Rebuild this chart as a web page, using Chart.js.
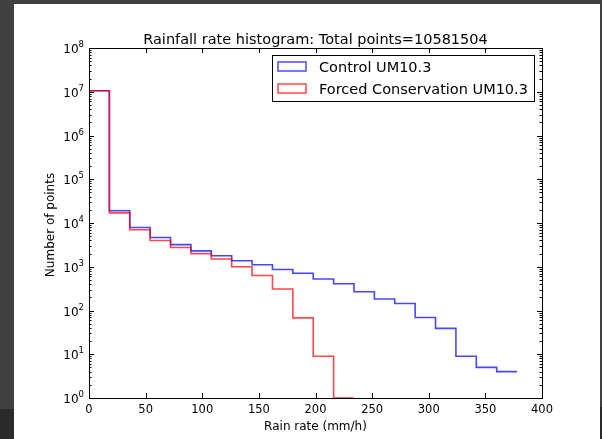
<!DOCTYPE html>
<html>
<head>
<meta charset="utf-8">
<script src="https://cdn.jsdelivr.net/npm/chart.js@4/dist/chart.umd.min.js"></script>
<style>
  html, body { margin: 0; padding: 0; background: #ffffff; overflow: hidden; }
  #wrap { position: relative; width: 602px; height: 439px; }
  canvas { display: block; }
</style>
</head>
<body>
<div id="wrap"><canvas id="c" width="602" height="439"></canvas></div>
<script>
// ---- data ----
const binEdges = [0, 18, 36, 54, 72, 90, 108, 126, 144, 162, 180, 198, 216, 234, 252, 270, 288, 306, 324, 342, 360, 378];
const controlCounts = [10550000, 19000, 7900, 4650, 3200, 2300, 1780, 1370, 1110, 865, 710, 523, 410, 268, 183, 145, 69, 39, 9, 5, 4];
const forcedCounts = [10550000, 17000, 7000, 3980, 2750, 2000, 1500, 1000, 630, 309, 68, 9, 1];
const seriesNames = ['Control UM10.3', 'Forced Conservation UM10.3'];
const xTicks = [0, 50, 100, 150, 200, 250, 300, 350, 400];
const yExponents = [0, 1, 2, 3, 4, 5, 6, 7, 8];
const titleText = 'Rainfall rate histogram: Total points=10581504';
const xTitle = 'Rain rate (mm/h)';
const yTitle = 'Number of points';

// build step points: start at bottom, then each bin's left edge, then final right edge
function stepPoints(counts) {
  const pts = [{x: binEdges[0], y: 1}];
  for (let i = 0; i < counts.length; i++) pts.push({x: binEdges[i], y: counts[i]});
  pts.push({x: binEdges[counts.length], y: counts[counts.length - 1]});
  return pts;
}

const FONT = '"DejaVu Sans", sans-serif';
const BLUE = 'rgba(0,0,255,0.72)';
const RED = 'rgba(255,0,0,0.72)';

const decorPlugin = {
  id: 'decor',
  beforeDraw(chart) {
    const ctx = chart.ctx;
    ctx.save();
    ctx.fillStyle = '#404040';
    ctx.fillRect(0, 0, 602, 439);
    ctx.fillStyle = '#2a2a2a';
    ctx.fillRect(0, 409, 14, 30);
    ctx.fillRect(600, 407, 2, 32);
    ctx.fillStyle = '#ffffff';
    ctx.fillRect(14, 4, 586, 435);
    ctx.restore();
  },
  afterDraw(chart) {
    const ctx = chart.ctx;
    const a = chart.chartArea;
    const xs = chart.scales.x, ys = chart.scales.y;
    ctx.save();
    // frame
    ctx.strokeStyle = '#000';
    ctx.lineWidth = 1;
    ctx.strokeRect(Math.round(a.left) + 0.5, Math.round(a.top) + 0.5,
                   Math.round(a.right - a.left), Math.round(a.bottom - a.top));
    // x ticks (inward, top and bottom)
    ctx.beginPath();
    xTicks.forEach(v => {
      const px = Math.round(xs.getPixelForValue(v)) + 0.5;
      ctx.moveTo(px, a.bottom); ctx.lineTo(px, a.bottom - 5);
      ctx.moveTo(px, a.top); ctx.lineTo(px, a.top + 5);
    });
    // y ticks major + minor (inward, left and right)
    yExponents.forEach(e => {
      const py = Math.round(ys.getPixelForValue(Math.pow(10, e))) + 0.5;
      ctx.moveTo(a.left, py); ctx.lineTo(a.left + 5, py);
      ctx.moveTo(a.right, py); ctx.lineTo(a.right - 5, py);
      if (e < 8) {
        for (let m = 2; m <= 9; m++) {
          const pm = Math.round(ys.getPixelForValue(m * Math.pow(10, e))) + 0.5;
          ctx.moveTo(a.left, pm); ctx.lineTo(a.left + 2.5, pm);
          ctx.moveTo(a.right, pm); ctx.lineTo(a.right - 2.5, pm);
        }
      }
    });
    ctx.stroke();
    // x tick labels
    ctx.fillStyle = '#000';
    ctx.font = '11.5px ' + FONT;
    ctx.textAlign = 'center';
    ctx.textBaseline = 'alphabetic';
    xTicks.forEach(v => {
      ctx.fillText(String(v), xs.getPixelForValue(v), a.bottom + 15);
    });
    // y tick labels 10^n
    yExponents.forEach(e => {
      const py = ys.getPixelForValue(Math.pow(10, e));
      ctx.font = '8.5px ' + FONT;
      const ew = ctx.measureText(String(e)).width;
      ctx.textAlign = 'left';
      const right = a.left - 5;
      ctx.fillText(String(e), right - ew, py - 1);
      ctx.font = '12px ' + FONT;
      ctx.textAlign = 'right';
      ctx.fillText('10', right - ew, py + 5);
    });
    // axis titles
    ctx.font = '12px ' + FONT;
    ctx.textAlign = 'center';
    ctx.fillText(xTitle, (a.left + a.right) / 2, 430);
    ctx.save();
    ctx.translate(54, 225);
    ctx.rotate(-Math.PI / 2);
    ctx.fillText(yTitle, 0, 0);
    ctx.restore();
    // title
    ctx.font = '14.5px ' + FONT;
    ctx.fillText(titleText, (a.left + a.right) / 2, 44);
    // legend
    const lx = 272.5, ly = 55.5, lw = 262, lh = 46;
    ctx.fillStyle = '#fff';
    ctx.fillRect(lx, ly, lw, lh);
    ctx.strokeStyle = '#000';
    ctx.lineWidth = 1;
    ctx.strokeRect(lx, ly, lw, lh);
    ctx.lineWidth = 1.5;
    ctx.strokeStyle = BLUE;
    ctx.strokeRect(278, 62, 28, 9);
    ctx.strokeStyle = RED;
    ctx.strokeRect(278, 84, 28, 9);
    ctx.fillStyle = '#000';
    ctx.font = '14.5px ' + FONT;
    ctx.textAlign = 'left';
    ctx.fillText(seriesNames[0], 319, 72);
    ctx.fillText(seriesNames[1], 319, 94);
    ctx.restore();
  }
};

new Chart(document.getElementById('c'), {
  type: 'line',
  data: {
    datasets: [
      { label: seriesNames[0], data: stepPoints(controlCounts), borderColor: BLUE, order: 1,
        borderWidth: 1.6, stepped: 'before', pointRadius: 0, fill: false },
      { label: seriesNames[1], data: stepPoints(forcedCounts), borderColor: RED, order: 0,
        borderWidth: 1.6, stepped: 'before', pointRadius: 0, fill: false }
    ]
  },
  options: {
    responsive: false,
    animation: false,
    devicePixelRatio: 1,
    layout: { padding: { left: 89, top: 48, right: 60, bottom: 41 } },
    plugins: { legend: { display: false }, title: { display: false }, tooltip: { enabled: false } },
    scales: {
      x: { type: 'linear', min: 0, max: 400, display: false },
      y: { type: 'logarithmic', min: 1, max: 1e8, display: false }
    }
  },
  plugins: [decorPlugin]
});
</script>
</body>
</html>
